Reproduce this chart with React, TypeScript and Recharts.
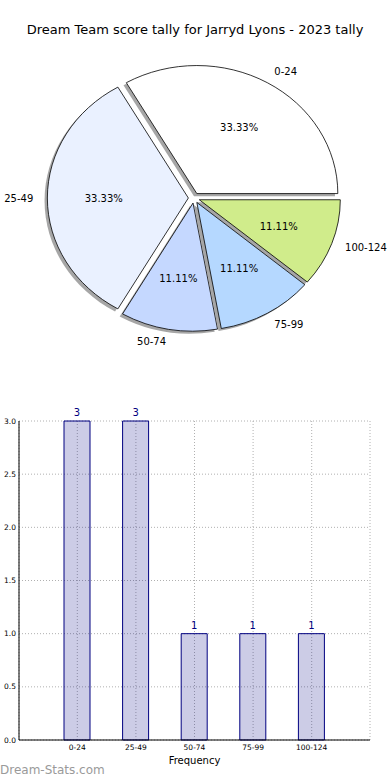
import React from "react"
import {
  PieChart, Pie, Cell, BarChart, Bar, XAxis, YAxis, CartesianGrid, LabelList,
} from "recharts"

const bins = ["0-24", "25-49", "50-74", "75-99", "100-124"]
const counts = [3, 3, 1, 1, 1]
const sliceColors = ["#ffffff", "#eaf1ff", "#c5d8ff", "#b5d8ff", "#d0ec8b"]
const yTicks = [0, 0.5, 1, 1.5, 2, 2.5, 3]

const pieData = bins.map((b, i) => ({ name: b, value: counts[i] }))
const barData = bins.map((b, i) => ({ bin: b, count: counts[i] }))

// matplotlib axes are not square here, so the pie comes out as an ellipse
const K = 0.908
const EXPLODE = 0.04
const SHADOW = 0.02
const RAD = Math.PI / 180
const FONT = "DejaVu Sans, sans-serif"

function wedgePath(cx: number, cy: number, rx: number, ry: number, start: number, end: number) {
  const x1 = cx + rx * Math.cos(start * RAD)
  const y1 = cy - ry * Math.sin(start * RAD)
  const x2 = cx + rx * Math.cos(end * RAD)
  const y2 = cy - ry * Math.sin(end * RAD)
  const large = Math.abs(end - start) > 180 ? 1 : 0
  return `M${cx},${cy} L${x1},${y1} A${rx},${ry} 0 ${large} 0 ${x2},${y2} Z`
}

function explodedCenter(p: any) {
  const rx = p.outerRadius
  const ry = p.outerRadius * K
  return {
    x: p.cx + EXPLODE * rx * Math.cos(p.midAngle * RAD),
    y: p.cy - EXPLODE * ry * Math.sin(p.midAngle * RAD),
    rx,
    ry,
  }
}

const WedgeShape = (p: any) => {
  const c = explodedCenter(p)
  return (
    <path
      d={wedgePath(c.x, c.y, c.rx, c.ry, p.startAngle, p.endAngle)}
      fill={p.fill}
      stroke="#000"
      strokeWidth={0.8}
    />
  )
}

const ShadowShape = (p: any) => {
  const c = explodedCenter(p)
  return (
    <path
      d={wedgePath(c.x - SHADOW * c.rx, c.y + SHADOW * c.ry, c.rx, c.ry, p.startAngle, p.endAngle)}
      fill="#4d4d4d"
      fillOpacity={0.5}
      stroke="none"
    />
  )
}

const renderLabel = (p: any) => {
  const c = explodedCenter(p)
  const cos = Math.cos(p.midAngle * RAD)
  const sin = Math.sin(p.midAngle * RAD)
  const lx = c.x + 1.1 * c.rx * cos
  const ly = c.y - 1.1 * c.ry * sin
  const px = c.x + 0.6 * c.rx * cos
  const py = c.y - 0.6 * c.ry * sin
  return (
    <g>
      <text x={lx} y={ly} textAnchor={cos > 0 ? "start" : "end"} dominantBaseline="central"
        fontSize={10} fontFamily={FONT} fill="#000">
        {p.name}
      </text>
      <text x={px} y={py} textAnchor="middle" dominantBaseline="central"
        fontSize={10} fontFamily={FONT} fill="#000">
        {(p.percent * 100).toFixed(2)}%
      </text>
    </g>
  )
}

export default function App() {
  return (
    <div style={{ position: "absolute", left: 0, top: 0, width: 390, height: 780, background: "#fff", fontFamily: FONT }}>
      <div style={{ position: "absolute", left: 0, top: 22, width: 390, textAlign: "center", fontSize: 13, lineHeight: "16px", color: "#000" }}>
        Dream Team score tally for Jarryd Lyons - 2023 tally
      </div>

      <div style={{ position: "absolute", left: 0, top: 0 }}>
        <PieChart width={390} height={360} margin={{ top: 0, right: 0, bottom: 0, left: 0 }}>
          <Pie
            data={pieData}
            dataKey="value"
            nameKey="name"
            cx={194}
            cy={198}
            outerRadius={141}
            startAngle={0}
            endAngle={360}
            shape={ShadowShape}
            isAnimationActive={false}
          />
          <Pie
            data={pieData}
            dataKey="value"
            nameKey="name"
            cx={194}
            cy={198}
            outerRadius={141}
            startAngle={0}
            endAngle={360}
            shape={WedgeShape}
            label={renderLabel}
            labelLine={false}
            isAnimationActive={false}
          >
            {pieData.map((d, i) => (
              <Cell key={d.name} fill={sliceColors[i]} />
            ))}
          </Pie>
        </PieChart>
      </div>

      <div style={{ position: "absolute", left: 0, top: 360 }}>
        <BarChart width={390} height={420} data={barData} margin={{ top: 61, right: 20, left: 0, bottom: 0 }}>
          <CartesianGrid stroke="#b0b0b0" strokeDasharray="1 2" />
          <XAxis
            dataKey="bin"
            height={40}
            padding={{ left: 29, right: 29 }}
            tickLine={false}
            tickSize={0}
            tickMargin={5}
            axisLine={{ stroke: "#000" }}
            tick={{ fontSize: 7.5, fill: "#000", fontFamily: FONT }}
            interval={0}
            label={{ value: "Frequency", position: "insideBottom", offset: 16, fontSize: 10, fill: "#000", fontFamily: FONT }}
          />
          <XAxis xAxisId="top" dataKey="bin" orientation="top" height={0} tick={false} tickLine={false} axisLine={{ stroke: "#000" }} />
          <YAxis
            width={19}
            domain={[0, 3]}
            ticks={yTicks}
            tickFormatter={(v: number) => v.toFixed(1)}
            tickLine={false}
            tickSize={0}
            tickMargin={3}
            axisLine={{ stroke: "#000" }}
            tick={{ fontSize: 7.5, fill: "#000", fontFamily: FONT }}
          />
          <YAxis yAxisId="right" orientation="right" width={0} tick={false} tickLine={false} axisLine={{ stroke: "#000" }} />
          <Bar dataKey="count" barSize={26} fill="#000080" fillOpacity={0.2} stroke="#000080" strokeWidth={1} isAnimationActive={false}>
            <LabelList dataKey="count" position="top" offset={5} fill="#000080" fontSize={10} fontFamily={FONT} />
          </Bar>
        </BarChart>
      </div>

      <div style={{ position: "absolute", left: 0, top: 763, fontSize: 12, lineHeight: "14px", color: "#9a9a9a" }}>
        Dream-Stats.com
      </div>
    </div>
  )
}
